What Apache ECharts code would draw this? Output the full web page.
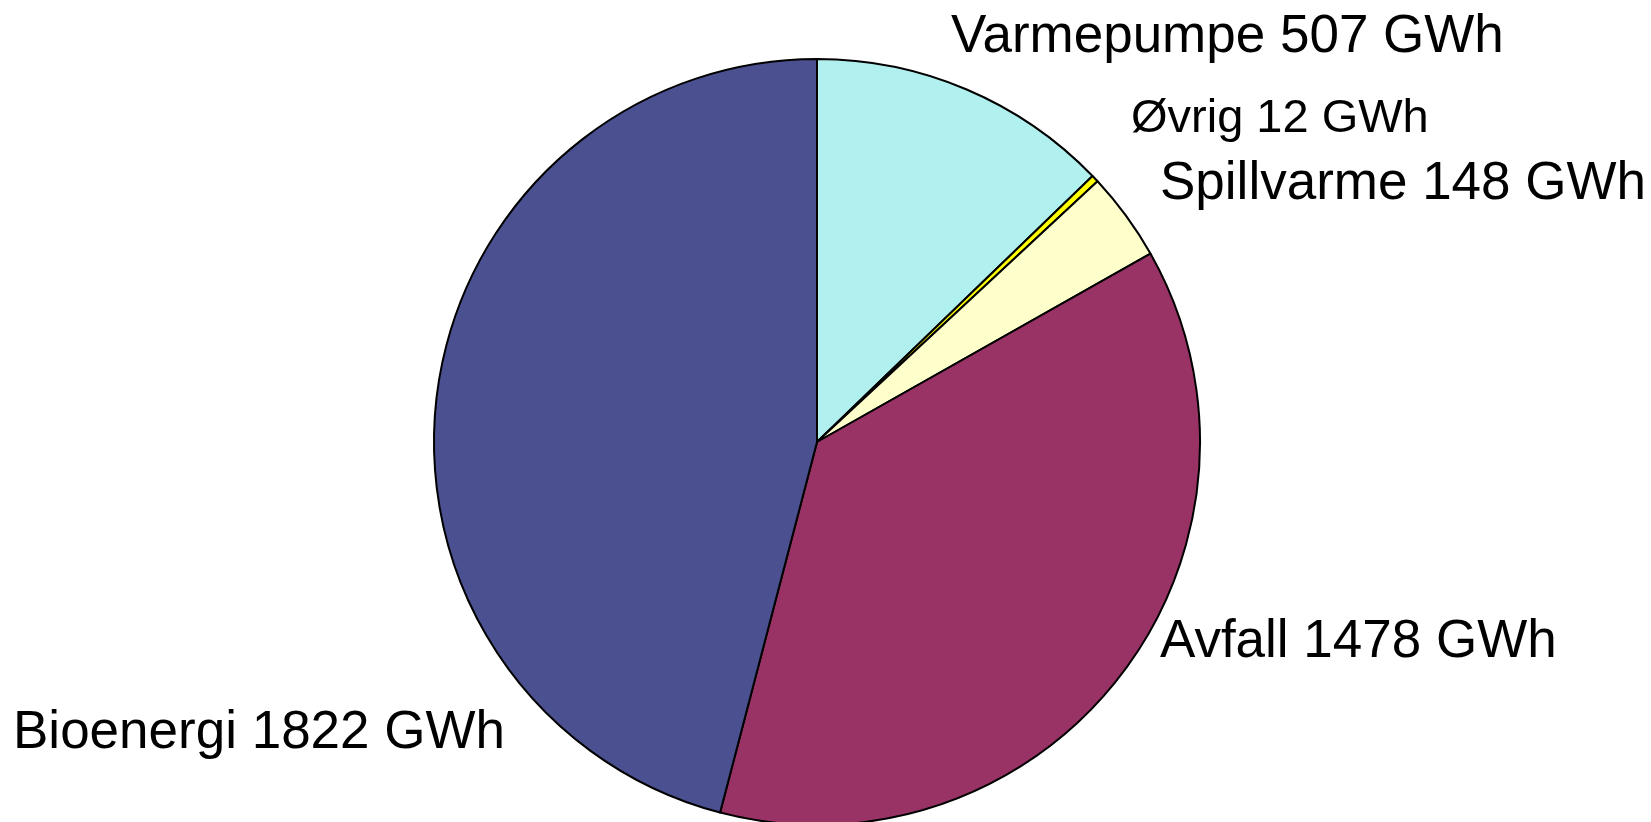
<!DOCTYPE html>
<html lang="no">
<head>
    <meta charset="UTF-8">
    <title>Fjernvarme</title>
    <script src="https://cdn.jsdelivr.net/npm/echarts@6/dist/echarts.min.js"></script>
    <style>
        html, body{
            margin: 0;
            padding: 0;
            background: #fff;
        }
        #box{
            width: 1651px;
            height: 822px;
        }
    </style>
</head>
<body>
<div id="box"></div>
<script>
    // data, clockwise from 12 o'clock
    var names = ['Varmepumpe', 'Øvrig', 'Spillvarme', 'Avfall', 'Bioenergi'];
    var values = [507, 12, 148, 1478, 1822];
    var colors = ['#b0f0ee', '#ffff00', '#ffffcc', '#993366', '#4a5090'];

    // where each label sits (left edge, vertical middle) and its font size
    var labelPos = [[951, 37], [1131, 119], [1160, 184], [1160, 642], [13, 733]];
    var labelSize = [53, 47, 53, 53, 53];

    var pieData = [];
    for(var i=0; i<names.length; i++){
        pieData.push({
            name: names[i],
            value: values[i],
            itemStyle: {color: colors[i]},
            label: {fontSize: labelSize[i]}
        });
    }

    var myChart = echarts.init(document.getElementById('box'));
    var option = {
        animation: false,
        series: [{
            type: 'pie',
            center: [817, 442],
            radius: 383,
            startAngle: 90,
            clockwise: true,
            avoidLabelOverlap: false,
            itemStyle: {
                borderColor: '#000',
                borderWidth: 2
            },
            label: {
                show: true,
                position: 'outside',
                color: '#000',
                fontFamily: 'Liberation Sans, Arial, sans-serif',
                formatter: function(p){
                    return p.name + ' ' + p.value + ' GWh';
                }
            },
            labelLine: {show: false},
            labelLayout: function(params){
                var pos = labelPos[params.dataIndex];
                return {
                    x: pos[0],
                    y: pos[1],
                    align: 'left',
                    verticalAlign: 'middle'
                };
            },
            emphasis: {disabled: true},
            data: pieData
        }]
    };
    myChart.setOption(option);
</script>
</body>
</html>
